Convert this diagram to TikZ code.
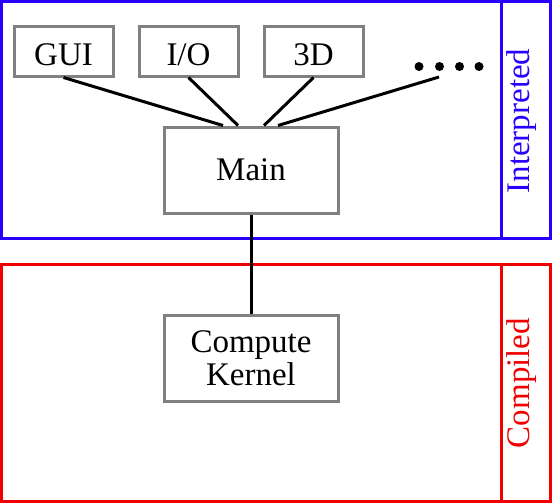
\documentclass[tikz,border=0pt]{standalone}
\usepackage{fontspec}
\setmainfont{Liberation Serif}
\definecolor{boxgray}{RGB}{128,128,128}
\definecolor{regblue}{RGB}{40,0,255}
\definecolor{regred}{RGB}{240,0,0}
\begin{document}
\begin{tikzpicture}[x=1pt,y=-1pt,
  box/.style={draw=boxgray, line width=3pt, inner sep=0pt, align=center,
    font=\fontsize{33}{33.5}\selectfont},
  smallbox/.style={box, minimum width=99pt, minimum height=49pt, text height=28pt, text depth=0pt},
  bigbox/.style={box, minimum width=174pt, minimum height=86pt},
  link/.style={line width=3pt, black},
  region/.style={line width=3pt},
  regionlabel/.style={rotate=90, inner sep=0pt, font=\fontsize{33}{33.5}\selectfont},
  dot/.style={circle, fill=black, inner sep=0pt, minimum size=9pt}]
\useasboundingbox (0,0) rectangle (553,503);
% regions
\draw[region, regblue] (1.5,1.5) rectangle (550.5,238);
\draw[region, regblue] (501.5,1.5) -- (501.5,238);
\draw[region, regred] (1.5,264) rectangle (550.5,501);
\draw[region, regred] (501.5,264) -- (501.5,501);
\node[regionlabel, text=regblue] (interp) at (522,121) {Interpreted};
\node[regionlabel, text=regred] (comp) at (522,383) {Compiled};
% nodes
\node[smallbox] (gui) at (63.5,51.5) {GUI};
\node[smallbox] (io) at (188.5,51.5) {I/O};
\node[smallbox] (threed) at (313.5,51.5) {3D};
\node[bigbox] (main) at (251,170) {Main};
\node[bigbox] (kernel) at (251,358) {Compute\\Kernel};
\node[dot] (d1) at (419,66.5) {};
\node[dot] (d2) at (439.5,66.5) {};
\node[dot] (d3) at (459.5,66.5) {};
\node[dot] (d4) at (479,66.5) {};
\coordinate (dotsend) at (439,77);
% connectors
\draw[link] (gui.south) -- ([xshift=-28pt]main.north);
\draw[link] (io.south) -- ([xshift=-13pt]main.north);
\draw[link] (threed.south) -- ([xshift=13pt]main.north);
\draw[link] (dotsend) -- ([xshift=27pt]main.north);
\draw[link] (main.south) -- (kernel.north);
\end{tikzpicture}
\end{document}
